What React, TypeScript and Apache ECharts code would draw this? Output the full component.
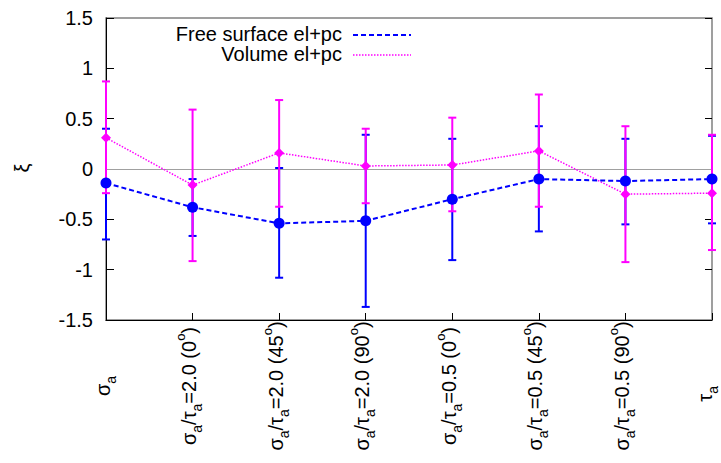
import React, { useEffect, useRef } from "react";
import * as echarts from "echarts";

const categories = [
  "{n|σ}{s|a}",
  "σ{s|a}/τ{s|a}=2.0 (0{p|o})",
  "σ{s|a}/τ{s|a}=2.0 (45{p|o})",
  "σ{s|a}/τ{s|a}=2.0 (90{p|o})",
  "σ{s|a}/τ{s|a}=0.5 (0{p|o})",
  "σ{s|a}/τ{s|a}=0.5 (45{p|o})",
  "σ{s|a}/τ{s|a}=0.5 (90{p|o})",
  "τ{s|a}",
];

const freeName = "Free surface el+pc";
const freeValues = [-0.14, -0.38, -0.54, -0.515, -0.3, -0.1, -0.12, -0.1];
const freeLow = [-0.7, -0.665, -1.08, -1.37, -0.905, -0.62, -0.55, -0.54];
const freeHigh = [0.4, -0.1, 0.01, 0.34, 0.3, 0.425, 0.3, 0.33];

const volName = "Volume el+pc";
const volValues = [0.31, -0.16, 0.16, 0.03, 0.04, 0.18, -0.25, -0.24];
const volLow = [-0.24, -0.915, -0.375, -0.34, -0.42, -0.375, -0.925, -0.805];
const volHigh = [0.87, 0.59, 0.685, 0.4, 0.51, 0.74, 0.425, 0.34];

const yTicks = { min: -1.5, max: 1.5, interval: 0.5 };
const yTitle = "ξ";

const BLUE = "#0000ff";
const MAGENTA = "#ff00ff";
const FONT = "'Liberation Sans', Arial, sans-serif";

function errorSeries(low: number[], high: number[], color: string, z: number) {
  return {
    type: "custom",
    z,
    clip: false,
    silent: true,
    data: low.map((l, i) => [i, l, high[i]]),
    encode: { x: 0, y: [1, 2] },
    renderItem: (_params: any, api: any) => {
      const x = api.value(0);
      const p1 = api.coord([x, api.value(1)]);
      const p2 = api.coord([x, api.value(2)]);
      const w = 4;
      const style = { stroke: color, lineWidth: 2, fill: "none" };
      return {
        type: "group",
        children: [
          { type: "line", shape: { x1: p1[0], y1: p1[1], x2: p2[0], y2: p2[1] }, style },
          { type: "line", shape: { x1: p1[0] - w, y1: p1[1], x2: p1[0] + w, y2: p1[1] }, style },
          { type: "line", shape: { x1: p2[0] - w, y1: p2[1], x2: p2[0] + w, y2: p2[1] }, style },
        ],
      };
    },
  };
}

export default function App() {
  const ref = useRef<HTMLDivElement>(null);
  useEffect(() => {
    if (!ref.current) return;
    const chart = echarts.init(ref.current, undefined, { renderer: "svg" });
    const labelRich = {
      n: { fontSize: 20, fontFamily: FONT, color: "#000" },
      s: { fontSize: 14, fontFamily: FONT, color: "#000", lineHeight: 14, verticalAlign: "bottom" },
      p: { fontSize: 13, fontFamily: FONT, color: "#000", lineHeight: 13, verticalAlign: "top" },
    };
    const xData = categories.map((c, i) =>
      i === categories.length - 1
        ? { value: c, textStyle: { padding: [0, 0, 14, 0] } }
        : c
    );
    chart.setOption({
      animation: false,
      textStyle: { fontFamily: FONT },
      grid: {
        left: 106,
        right: 9,
        top: 18,
        bottom: 143,
        containLabel: false,
        outerBoundsMode: "none",
        show: true,
        borderColor: "#808080",
        borderWidth: 1.5,
        backgroundColor: "transparent",
      },
      xAxis: [
        {
          type: "category",
          data: xData,
          boundaryGap: false,
          position: "bottom",
          axisLine: { show: true, onZero: false, lineStyle: { color: "#000", width: 1 } },
          axisTick: { show: true, inside: true, length: 7, lineStyle: { color: "#000" } },
          axisLabel: {
            rotate: 90,
            align: "center",
            verticalAlign: "middle",
            margin: 66,
            fontSize: 20,
            lineHeight: 30,
            padding: [0, 0, 7, 0],
            color: "#000",
            fontFamily: FONT,
            interval: 0,
            rich: labelRich,
          },
          splitLine: { show: false },
        },
      ],
      yAxis: [
        {
          type: "value",
          min: yTicks.min,
          max: yTicks.max,
          interval: yTicks.interval,
          position: "left",
          axisLine: { show: true, onZero: false, lineStyle: { color: "#000", width: 1 } },
          axisTick: { show: true, inside: true, length: 8, lineStyle: { color: "#000" } },
          axisLabel: { fontSize: 20, color: "#000", margin: 13, fontFamily: FONT },
          splitLine: { show: false },
        },
        {
          type: "value",
          min: yTicks.min,
          max: yTicks.max,
          interval: yTicks.interval,
          position: "right",
          axisLine: { show: false, onZero: false },
          axisTick: { show: true, inside: true, length: 7, lineStyle: { color: "#000" } },
          axisLabel: { show: false },
          splitLine: { show: false },
        },
      ],
      graphic: [
        {
          type: "text",
          x: 22,
          y: 168,
          rotation: Math.PI / 2,
          style: {
            text: yTitle,
            fontSize: 20,
            fill: "#000",
            fontFamily: FONT,
            textAlign: "center",
            textVerticalAlign: "middle",
          },
        },
        {
          type: "text",
          right: 721 - 342,
          top: 24,
          style: { text: freeName, fontSize: 20, fill: "#000", fontFamily: FONT, textAlign: "right" },
        },
        {
          type: "text",
          right: 721 - 342,
          top: 44,
          style: { text: volName, fontSize: 20, fill: "#000", fontFamily: FONT, textAlign: "right" },
        },
        {
          type: "line",
          shape: { x1: 353, y1: 35, x2: 411, y2: 35 },
          style: { stroke: BLUE, lineWidth: 2, lineDash: [5, 3] },
        },
        {
          type: "line",
          shape: { x1: 353, y1: 55, x2: 411, y2: 55 },
          style: { stroke: MAGENTA, lineWidth: 1.5, lineDash: [1.5, 1.5] },
        },
      ],
      series: [
        errorSeries(freeLow, freeHigh, BLUE, 2),
        errorSeries(volLow, volHigh, MAGENTA, 3),
        {
          type: "line",
          name: volName,
          z: 4,
          clip: false,
          data: volValues,
          symbol: "diamond",
          symbolSize: 10,
          itemStyle: { color: MAGENTA },
          lineStyle: { color: MAGENTA, width: 1.5, type: [1.5, 1.5] },
          markLine: {
            silent: true,
            symbol: "none",
            label: { show: false },
            lineStyle: { color: "#a0a0a0", width: 1, type: "solid" },
            data: [{ yAxis: 0 }],
            z: 1,
          },
        },
        {
          type: "line",
          name: freeName,
          z: 5,
          clip: false,
          data: freeValues,
          symbol: "circle",
          symbolSize: 11,
          itemStyle: { color: BLUE },
          lineStyle: { color: BLUE, width: 2, type: [5, 3] },
        },
      ],
    });
    return () => chart.dispose();
  }, []);
  return (
    <div
      ref={ref}
      style={{ position: "fixed", left: 0, top: 0, width: 721, height: 463, background: "#fff" }}
    />
  );
}
